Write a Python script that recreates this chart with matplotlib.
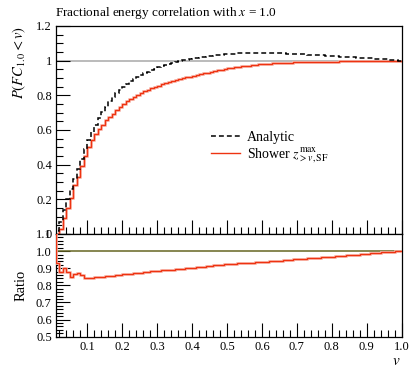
import numpy as np
import matplotlib
matplotlib.use("Agg")
import matplotlib.pyplot as plt
from matplotlib.ticker import MultipleLocator, FixedLocator, FixedFormatter
from matplotlib.lines import Line2D

plt.rcParams['font.family'] = ['Liberation Serif', 'DejaVu Serif']
plt.rcParams['mathtext.fontset'] = 'stix'

# ---------------- data ----------------
bin_edges = np.round(np.arange(0, 101) * 0.01, 2)

analytic = [
    0.00, 0.02, 0.07, 0.14, 0.20, 0.26, 0.32, 0.375, 0.43, 0.49,
    0.54, 0.59, 0.63, 0.67, 0.705, 0.735, 0.765, 0.79, 0.812, 0.832,
    0.85, 0.865, 0.88, 0.893, 0.905, 0.917, 0.927, 0.937, 0.946, 0.954,
    0.962, 0.969, 0.975, 0.981, 0.987, 0.992, 0.997, 1.001, 1.005, 1.009,
    1.013, 1.017, 1.020, 1.023, 1.026, 1.029, 1.031, 1.033, 1.035, 1.037,
    1.039, 1.040, 1.041, 1.042, 1.043, 1.044, 1.045, 1.045, 1.046, 1.046,
    1.046, 1.046, 1.045, 1.045, 1.044, 1.043, 1.042, 1.041, 1.040, 1.039,
    1.038, 1.037, 1.036, 1.034, 1.033, 1.032, 1.031, 1.030, 1.028, 1.027,
    1.026, 1.025, 1.023, 1.022, 1.021, 1.020, 1.019, 1.018, 1.016, 1.015,
    1.014, 1.013, 1.012, 1.011, 1.009, 1.008, 1.006, 1.004, 1.002, 1.000,
]

shower = [
    0.00, 0.00, 0.03, 0.09, 0.15, 0.21, 0.28, 0.33, 0.39, 0.45,
    0.50, 0.54, 0.575, 0.605, 0.63, 0.655, 0.675, 0.695, 0.715, 0.735,
    0.752, 0.767, 0.78, 0.792, 0.803, 0.813, 0.823, 0.832, 0.84, 0.848,
    0.856, 0.863, 0.869, 0.875, 0.881, 0.887, 0.893, 0.898, 0.903, 0.908,
    0.913, 0.918, 0.922, 0.927, 0.931, 0.936, 0.940, 0.944, 0.948, 0.952,
    0.956, 0.959, 0.962, 0.965, 0.968, 0.970, 0.972, 0.974, 0.976, 0.978,
    0.980, 0.981, 0.983, 0.984, 0.985, 0.986, 0.987, 0.988, 0.989, 0.990,
    0.990, 0.991, 0.991, 0.992, 0.992, 0.993, 0.993, 0.994, 0.994, 0.995,
    0.995, 0.995, 0.996, 0.996, 0.996, 0.997, 0.997, 0.997, 0.998, 0.998,
    0.998, 0.998, 0.999, 0.999, 0.999, 0.999, 1.000, 1.000, 1.000, 1.000,
]

ratio = [
    1.30, 0.93, 0.88, 0.90, 0.88, 0.847, 0.865, 0.872, 0.86, 0.845,
    0.843, 0.845, 0.847, 0.848, 0.849, 0.852, 0.855, 0.857, 0.859, 0.861,
    0.864, 0.866, 0.868, 0.871, 0.872, 0.874, 0.877, 0.879, 0.881, 0.884,
    0.886, 0.888, 0.889, 0.891, 0.892, 0.894, 0.896, 0.898, 0.900, 0.902,
    0.904, 0.906, 0.908, 0.910, 0.912, 0.914, 0.916, 0.918, 0.920, 0.922,
    0.923, 0.925, 0.926, 0.928, 0.929, 0.930, 0.932, 0.933, 0.935, 0.936,
    0.938, 0.939, 0.941, 0.942, 0.944, 0.945, 0.947, 0.948, 0.950, 0.951,
    0.953, 0.954, 0.956, 0.957, 0.959, 0.960, 0.962, 0.963, 0.965, 0.966,
    0.968, 0.970, 0.971, 0.973, 0.975, 0.977, 0.978, 0.980, 0.982, 0.984,
    0.986, 0.987, 0.989, 0.990, 0.992, 0.993, 0.995, 0.996, 0.998, 1.000,
]

top_yticks = [0, 0.2, 0.4, 0.6, 0.8, 1.0, 1.2]
top_ylabels = ['0', '0.2', '0.4', '0.6', '0.8', '1', '1.2']
ratio_yticks = [0.5, 0.6, 0.7, 0.8, 0.9, 1.0, 1.1]
ratio_ylabels = ['0.5', '0.6', '0.7', '0.8', '0.9', '1.0', '1.1']
xticks = [0.1, 0.2, 0.3, 0.4, 0.5, 0.6, 0.7, 0.8, 0.9, 1.0]
xlabels = ['0.1', '0.2', '0.3', '0.4', '0.5', '0.6', '0.7', '0.8', '0.9', '1.0']

RED = '#ee3311'
RED_LIGHT = '#f9bcb2'
DASH = (0, (3.2, 2.0))

# ---------------- figure ----------------
fig = plt.figure(figsize=(4.10, 3.67), dpi=100)
ax = fig.add_axes([0.1366, 0.3624, 0.8427, 0.5668])
axr = fig.add_axes([0.1366, 0.0826, 0.8427, 0.2798])

for a in (ax, axr):
    for s in a.spines.values():
        s.set_linewidth(0.9)
    a.tick_params(which='both', direction='in', top=False, right=False,
                  width=0.8, labelsize=9, pad=3)
    a.tick_params(which='major', length=10)
    a.tick_params(which='minor', length=5)
    a.set_xlim(0.01, 1.0)

# top panel
ax.axhline(1.0, color='#b5b5b5', lw=1.3, zorder=1)
ax.stairs(shower, bin_edges, baseline=None, color=RED_LIGHT, lw=1.9, zorder=2)
ax.stairs(shower, bin_edges, baseline=None, color=RED, lw=1.0, zorder=3)
ax.stairs(analytic, bin_edges, baseline=None, color='black', lw=1.1,
          linestyle=DASH, zorder=4)
ax.set_ylim(0, 1.2)
ax.yaxis.set_major_locator(FixedLocator(top_yticks))
ax.yaxis.set_major_formatter(FixedFormatter(top_ylabels))
ax.yaxis.set_minor_locator(MultipleLocator(0.05))
ax.xaxis.set_major_locator(FixedLocator(xticks))
ax.xaxis.set_minor_locator(MultipleLocator(0.02))
ax.tick_params(axis='x', labelbottom=False)

handles = [Line2D([], [], color='black', lw=1.1, linestyle=DASH),
           Line2D([], [], color=RED, lw=1.0)]
ax.legend(handles, ['Analytic', r'Shower $z^{\mathrm{max}}_{>v,\mathrm{SF}}$'],
          loc='upper left', bbox_to_anchor=(0.449, 0.497), frameon=False,
          fontsize=10, handlelength=2.1, handletextpad=0.45, labelspacing=0.2,
          borderaxespad=0, borderpad=0)

ax.set_ylabel(r'$P(FC_{1.0} < v)$', fontsize=10.5, loc='top', labelpad=6)
ax.set_title(r'Fractional energy correlation with $x$ = 1.0', fontsize=9.5,
             loc='left', pad=7, x=-0.003)

# ratio panel
axr.axhline(1.0, color='#666622', lw=1.1, zorder=2)
axr.stairs(ratio, bin_edges, baseline=None, color=RED_LIGHT, lw=1.9, zorder=3)
axr.stairs(ratio, bin_edges, baseline=None, color=RED, lw=1.0, zorder=4)
axr.set_ylim(0.5, 1.1)
axr.yaxis.set_major_locator(FixedLocator(ratio_yticks))
axr.yaxis.set_major_formatter(FixedFormatter(ratio_ylabels))
axr.yaxis.set_minor_locator(MultipleLocator(0.02))
axr.xaxis.set_major_locator(FixedLocator(xticks))
axr.xaxis.set_major_formatter(FixedFormatter(xlabels))
axr.xaxis.set_minor_locator(MultipleLocator(0.02))
axr.set_ylabel('Ratio', fontsize=10.5, labelpad=6)
axr.set_xlabel(r'$v$', fontsize=11, ha='right', va='center')
axr.xaxis.set_label_coords(0.998, -0.245)

fig.savefig('out.png', dpi=100)
